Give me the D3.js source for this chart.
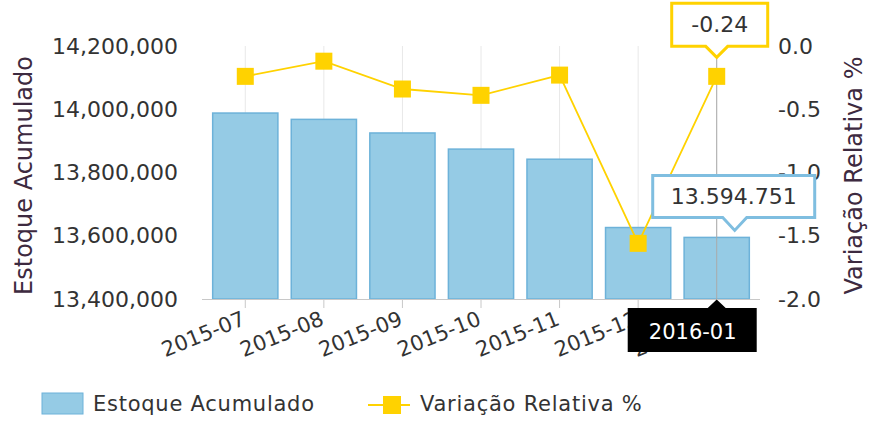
<!DOCTYPE html>
<html>
<head>
<meta charset="utf-8">
<script src="https://cdn.jsdelivr.net/npm/d3@7"></script>
<style>
    body { margin: 0; background: #fff; }
    svg { display: block; font-family: "DejaVu Sans", Verdana, sans-serif; }
</style>
</head>
<body>
<div id="chart"></div>
<script>
// Data
const categories = ['2015-07', '2015-08', '2015-09', '2015-10', '2015-11', '2015-12', '2016-01'];
const estoque = [13988000, 13968000, 13925000, 13874000, 13842000, 13626000, 13594751];
const variacao = [-0.24, -0.12, -0.34, -0.39, -0.23, -1.56, -0.24];
const leftTicks = [13400000, 13600000, 13800000, 14000000, 14200000];
const rightTicks = [0, -0.5, -1.0, -1.5, -2.0];

const W = 869, H = 423;
const margin = { top: 46, right: 113, bottom: 124, left: 206 };
const width = W - margin.left - margin.right;
const height = H - margin.top - margin.bottom;

const FONT = '"DejaVu Sans", Verdana, sans-serif';
const BLUE = '#95cbe5', BLUE_STROKE = '#6db2d9', YELLOW = '#ffd200', TEXT = '#333';

const enLocale = d3.formatLocale({ decimal: '.', thousands: ',', grouping: [3], currency: ['', ''], minus: '-' });
const ptLocale = d3.formatLocale({ decimal: ',', thousands: '.', grouping: [3], currency: ['', ''], minus: '-' });

const svg = d3.select('#chart').append('svg')
    .attr('width', W)
    .attr('height', H);

const g = svg.append('g').attr('transform', `translate(${margin.left},${margin.top})`);

// Scales
const x = d3.scaleBand()
    .domain(categories)
    .range([0, width])
    .paddingInner(0.17)
    .paddingOuter(0.085);

const yL = d3.scaleLinear().domain([13400000, 14200000]).range([height, 0]);
const yR = d3.scaleLinear().domain([-2, 0]).range([height, 0]);

const cx = d => x(d) + x.bandwidth() / 2;

// Vertical grid lines at categories
g.append('g').selectAll('line').data(categories).join('line')
    .attr('x1', cx).attr('x2', cx)
    .attr('y1', 0).attr('y2', height)
    .attr('stroke', '#e8e8e8')
    .attr('stroke-width', 1);

// Bars
g.append('g').selectAll('rect').data(categories).join('rect')
    .attr('x', d => x(d))
    .attr('y', (d, i) => yL(estoque[i]))
    .attr('width', x.bandwidth())
    .attr('height', (d, i) => height - yL(estoque[i]))
    .attr('fill', BLUE)
    .attr('stroke', BLUE_STROKE)
    .attr('stroke-width', 1.5);

// Hover crosshair on last category
const last = categories.length - 1;
const lastX = cx(categories[last]);
g.append('line')
    .attr('x1', lastX).attr('x2', lastX)
    .attr('y1', 0).attr('y2', height)
    .attr('stroke', '#aaa')
    .attr('stroke-width', 1);

// x axis
const xAxisG = g.append('g')
    .attr('transform', `translate(0,${height})`)
    .call(d3.axisBottom(x).tickSize(9).tickPadding(0).tickSizeOuter(0))
    .attr('font-family', FONT);
xAxisG.select('.domain')
    .attr('d', `M-4,0.5H${width + 4}`)
    .attr('stroke', '#c8c8c8');
xAxisG.selectAll('.tick line').attr('stroke', '#c8c8c8');
xAxisG.selectAll('.tick text')
    .attr('fill', TEXT)
    .style('font-size', '21px')
    .attr('text-anchor', 'end')
    .attr('dy', 0)
    .attr('transform', 'translate(-2,17) rotate(-22)');

// Left axis
const yLAxisG = g.append('g')
    .call(d3.axisLeft(yL).tickValues(leftTicks).tickFormat(enLocale.format(',')).tickSize(0).tickPadding(28))
    .attr('font-family', FONT);
yLAxisG.select('.domain').remove();
yLAxisG.selectAll('.tick text').attr('fill', TEXT).style('font-size', '22px');

// Right axis
const yRAxisG = g.append('g')
    .attr('transform', `translate(${width},0)`)
    .call(d3.axisRight(yR).tickValues(rightTicks).tickFormat(enLocale.format('.1f')).tickSize(0).tickPadding(22))
    .attr('font-family', FONT);
yRAxisG.select('.domain').remove();
yRAxisG.selectAll('.tick text').attr('fill', TEXT).style('font-size', '22px');

// Axis titles
svg.append('text')
    .attr('transform', `translate(32,${margin.top + height / 2 + 3}) rotate(-90)`)
    .attr('text-anchor', 'middle')
    .attr('fill', '#3d2a40')
    .style('font-size', '24px')
    .text('Estoque Acumulado');

svg.append('text')
    .attr('transform', `translate(862,${margin.top + height / 2 + 3}) rotate(-90)`)
    .attr('text-anchor', 'middle')
    .attr('fill', '#3d2a40')
    .style('font-size', '24px')
    .text('Variação Relativa %');

// Line series
const line = d3.line()
    .x((d, i) => cx(categories[i]))
    .y(d => yR(d));

g.append('path')
    .datum(variacao)
    .attr('d', line)
    .attr('fill', 'none')
    .attr('stroke', YELLOW)
    .attr('stroke-width', 1.8);

const sq = 17;
g.append('g').selectAll('rect').data(variacao).join('rect')
    .attr('x', (d, i) => cx(categories[i]) - sq / 2)
    .attr('y', d => yR(d) - sq / 2)
    .attr('width', sq)
    .attr('height', sq)
    .attr('fill', YELLOW);

// Tooltips (last point)
function callout(parent, x0, y0, x1, y1, tipX, tipY, half, fill, stroke, sw, dir) {
    let p;
    if (dir === 'down') {
        p = `M${x0},${y0}H${x1}V${y1}H${tipX + half}L${tipX},${tipY}L${tipX - half},${y1}H${x0}Z`;
    } else {
        p = `M${x0},${y0}H${tipX - half}L${tipX},${tipY}L${tipX + half},${y0}H${x1}V${y1}H${x0}Z`;
    }
    return parent.append('path')
        .attr('d', p)
        .attr('fill', fill)
        .attr('stroke', stroke)
        .attr('stroke-width', sw)
        .attr('stroke-linejoin', 'miter');
}

// line tooltip
const ly = yR(variacao[last]);
const lTipY = ly - 19;
callout(g, lastX - 45, lTipY - 54, lastX + 51, lTipY - 11, lastX, lTipY, 11, '#fff', YELLOW, 3, 'down');
g.append('text')
    .attr('x', lastX + 3)
    .attr('y', lTipY - 25)
    .attr('text-anchor', 'middle')
    .attr('fill', TEXT)
    .style('font-size', '22px')
    .text(enLocale.format('.2f')(variacao[last]));

// bar tooltip
const by = yL(estoque[last]);
const bTipX = lastX + 18, bTipY = by - 7;
callout(g, lastX - 64, bTipY - 55, lastX + 98, bTipY - 13, bTipX, bTipY, 12, '#fff', '#7fbee0', 3, 'down');
g.append('text')
    .attr('x', lastX + 17)
    .attr('y', bTipY - 26)
    .attr('text-anchor', 'middle')
    .attr('fill', TEXT)
    .style('font-size', '22px')
    .text(ptLocale.format(',')(estoque[last]));

// category label
callout(g, lastX - 89, height + 9, lastX + 40, height + 53, lastX, height + 0.5, 9, '#000', '#000', 0, 'up');
g.append('text')
    .attr('x', lastX - 24)
    .attr('y', height + 40)
    .attr('text-anchor', 'middle')
    .attr('fill', '#fff')
    .style('font-size', '21px')
    .text(categories[last]);

// Legend
const legend = svg.append('g').attr('transform', 'translate(0,404)');
legend.append('rect')
    .attr('x', 42).attr('y', -11)
    .attr('width', 41).attr('height', 21)
    .attr('fill', BLUE)
    .attr('stroke', BLUE_STROKE)
    .attr('stroke-width', 1);
legend.append('text')
    .attr('x', 93).attr('y', 0)
    .attr('dy', '0.35em')
    .attr('fill', TEXT)
    .style('font-size', '21px')
    .style('letter-spacing', '0.75px')
    .text('Estoque Acumulado');

legend.append('line')
    .attr('x1', 368).attr('x2', 410)
    .attr('y1', 1).attr('y2', 1)
    .attr('stroke', YELLOW)
    .attr('stroke-width', 2);
legend.append('rect')
    .attr('x', 383).attr('y', -8)
    .attr('width', 18).attr('height', 18)
    .attr('fill', YELLOW);
legend.append('text')
    .attr('x', 420).attr('y', 0)
    .attr('dy', '0.35em')
    .attr('fill', TEXT)
    .style('font-size', '21px')
    .style('letter-spacing', '0.75px')
    .text('Variação Relativa %');
</script>
</body>
</html>
